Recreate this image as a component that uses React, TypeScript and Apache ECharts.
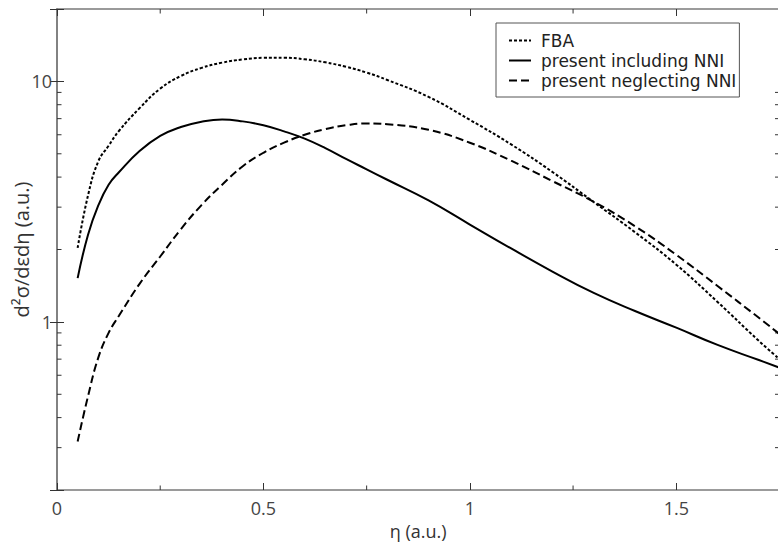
import React, { useEffect, useRef } from "react";
import * as echarts from "echarts";

const eta = [0.05, 0.075, 0.1, 0.125, 0.15, 0.2, 0.25, 0.3, 0.35, 0.4, 0.45, 0.5, 0.55, 0.6, 0.65, 0.7, 0.75, 0.8, 0.9, 1.0, 1.1, 1.2, 1.3, 1.4, 1.5, 1.6, 1.7, 1.75];
const fba = [2.03, 3.35, 4.65, 5.4, 6.22, 7.74, 9.33, 10.53, 11.38, 11.97, 12.34, 12.53, 12.54, 12.36, 12.0, 11.5, 10.88, 10.14, 8.62, 6.92, 5.47, 4.2, 3.15, 2.36, 1.73, 1.21, 0.834, 0.7];
const includingNNI = [1.52, 2.3, 3.05, 3.72, 4.19, 5.13, 5.93, 6.46, 6.8, 6.95, 6.82, 6.57, 6.2, 5.78, 5.28, 4.76, 4.31, 3.9, 3.2, 2.54, 2.02, 1.62, 1.32, 1.11, 0.946, 0.802, 0.694, 0.645];
const neglectingNNI = [0.318, 0.49, 0.71, 0.9, 1.06, 1.44, 1.87, 2.43, 3.06, 3.72, 4.44, 5.05, 5.56, 6.0, 6.33, 6.57, 6.69, 6.64, 6.29, 5.56, 4.68, 3.85, 3.16, 2.5, 1.9, 1.41, 1.04, 0.89];

const seriesNames = ["FBA", "present including NNI", "present neglecting NNI"];
const xMinorTicks = [0.25, 0.75, 1.25];
const yMinorTicks = [0.3, 0.4, 0.5, 0.6, 0.7, 0.8, 0.9, 2, 3, 4, 5, 6, 7, 8, 9];
const yLabelValues = [1, 10];
const X_MIN = 0, X_MAX = 1.75, Y_MIN = 0.2, Y_MAX = 20;

export default function App() {
  const ref = useRef<HTMLDivElement>(null);
  useEffect(() => {
    const chart = echarts.init(ref.current!, null, { renderer: "svg" });
    const font = "'Open Sans', sans-serif";
    const legendFont = "'DejaVu Sans', sans-serif";
    const axisLine = { show: true, lineStyle: { color: "#7a7a7a", width: 1.5 } };
    const majorTick = { show: true, inside: true, length: 7, lineStyle: { color: "#333", width: 1 } };
    const labelStyle = { fontSize: 18, color: "#444", fontFamily: font };
    const toPair = (ys: number[]) => eta.map((x, i) => [x, ys[i]]);
    const lineDash = [[3, 2], "solid", [8, 4]] as any[];
    const dataSets = [fba, includingNNI, neglectingNNI];

    const yFormatter = (v: number) => {
      const hit = yLabelValues.find((t) => Math.abs(v - t) < 1e-6 * t);
      return hit !== undefined ? String(hit) : "";
    };

    chart.setOption({
      animation: false,
      backgroundColor: "#fff",
      grid: { left: 57, top: 9, right: -1.5, bottom: 52, containLabel: false, outerBoundsMode: "none" },
      legend: {
        data: seriesNames,
        orient: "vertical",
        left: 496,
        top: 23,
        padding: [9, 3, 8, 12],
        itemWidth: 22,
        itemHeight: 14,
        itemGap: 3,
        borderColor: "#555",
        borderWidth: 1,
        backgroundColor: "#fff",
        itemStyle: { opacity: 0 },
        textStyle: { fontSize: 17, lineHeight: 17, color: "#222", fontFamily: legendFont, padding: [0, 0, 0, 5] },
      },
      xAxis: [
        {
          type: "value", position: "bottom", min: X_MIN, max: X_MAX, interval: 0.5,
          axisLine, axisTick: majorTick,
          axisLabel: { ...labelStyle, margin: 9, showMaxLabel: false },
          splitLine: { show: false },
          name: "η (a.u.)", nameLocation: "middle", nameGap: 32, nameMoveOverlap: false,
          nameTextStyle: { fontSize: 18, lineHeight: 18, color: "#333", fontFamily: font },
        },
        {
          type: "value", position: "top", min: X_MIN, max: X_MAX, interval: 0.5,
          axisLine, axisTick: majorTick, axisLabel: { show: false }, splitLine: { show: false },
        },
      ],
      yAxis: [
        {
          type: "log", logBase: 10, position: "left", min: Y_MIN, max: Y_MAX,
          axisLine, axisTick: majorTick,
          axisLabel: { ...labelStyle, margin: 5, formatter: yFormatter },
          splitLine: { show: false },
          name: "d²σ/dεdη (a.u.)", nameLocation: "middle", nameGap: 26, nameMoveOverlap: false,
          nameTextStyle: { fontSize: 20, color: "#333", fontFamily: font },
        },
        {
          type: "log", logBase: 10, position: "right", min: Y_MIN, max: Y_MAX,
          axisLine, axisTick: majorTick, axisLabel: { show: false }, splitLine: { show: false },
        },
      ],
      series: [
        ...seriesNames.map((name, i) => ({
          name,
          type: "line",
          data: toPair(dataSets[i]),
          smooth: 0.45,
          symbol: "none",
          xAxisIndex: 0,
          yAxisIndex: 0,
          lineStyle: { color: "#000", width: 2, type: lineDash[i] },
          itemStyle: { color: "#000" },
        })),
        {
          type: "custom",
          name: "yMinor",
          silent: true,
          clip: false,
          xAxisIndex: 0,
          yAxisIndex: 0,
          data: yMinorTicks.map((v) => [X_MIN, v]),
          renderItem: (params: any, api: any) => {
            const v = api.value(1);
            const p = api.coord([X_MIN, v]);
            const q = api.coord([X_MAX, v]);
            const style = { stroke: "#333", lineWidth: 1 };
            return {
              type: "group",
              children: [
                { type: "line", shape: { x1: p[0], y1: p[1], x2: p[0] + 4.5, y2: p[1] }, style },
                { type: "line", shape: { x1: q[0] - 4.5, y1: q[1], x2: q[0], y2: q[1] }, style },
              ],
            };
          },
        },
        {
          type: "custom",
          name: "xMinor",
          silent: true,
          clip: false,
          xAxisIndex: 0,
          yAxisIndex: 0,
          data: xMinorTicks.map((v) => [v, Y_MIN]),
          renderItem: (params: any, api: any) => {
            const v = api.value(0);
            const p = api.coord([v, Y_MIN]);
            const q = api.coord([v, Y_MAX]);
            const style = { stroke: "#333", lineWidth: 1 };
            return {
              type: "group",
              children: [
                { type: "line", shape: { x1: p[0], y1: p[1], x2: p[0], y2: p[1] - 4.5 }, style },
                { type: "line", shape: { x1: q[0], y1: q[1], x2: q[0], y2: q[1] + 4.5 }, style },
              ],
            };
          },
        },
      ],
    });
    return () => chart.dispose();
  }, []);

  return (
    <div
      ref={ref}
      style={{ position: "fixed", left: 0, top: 0, width: 778, height: 542 }}
    />
  );
}
